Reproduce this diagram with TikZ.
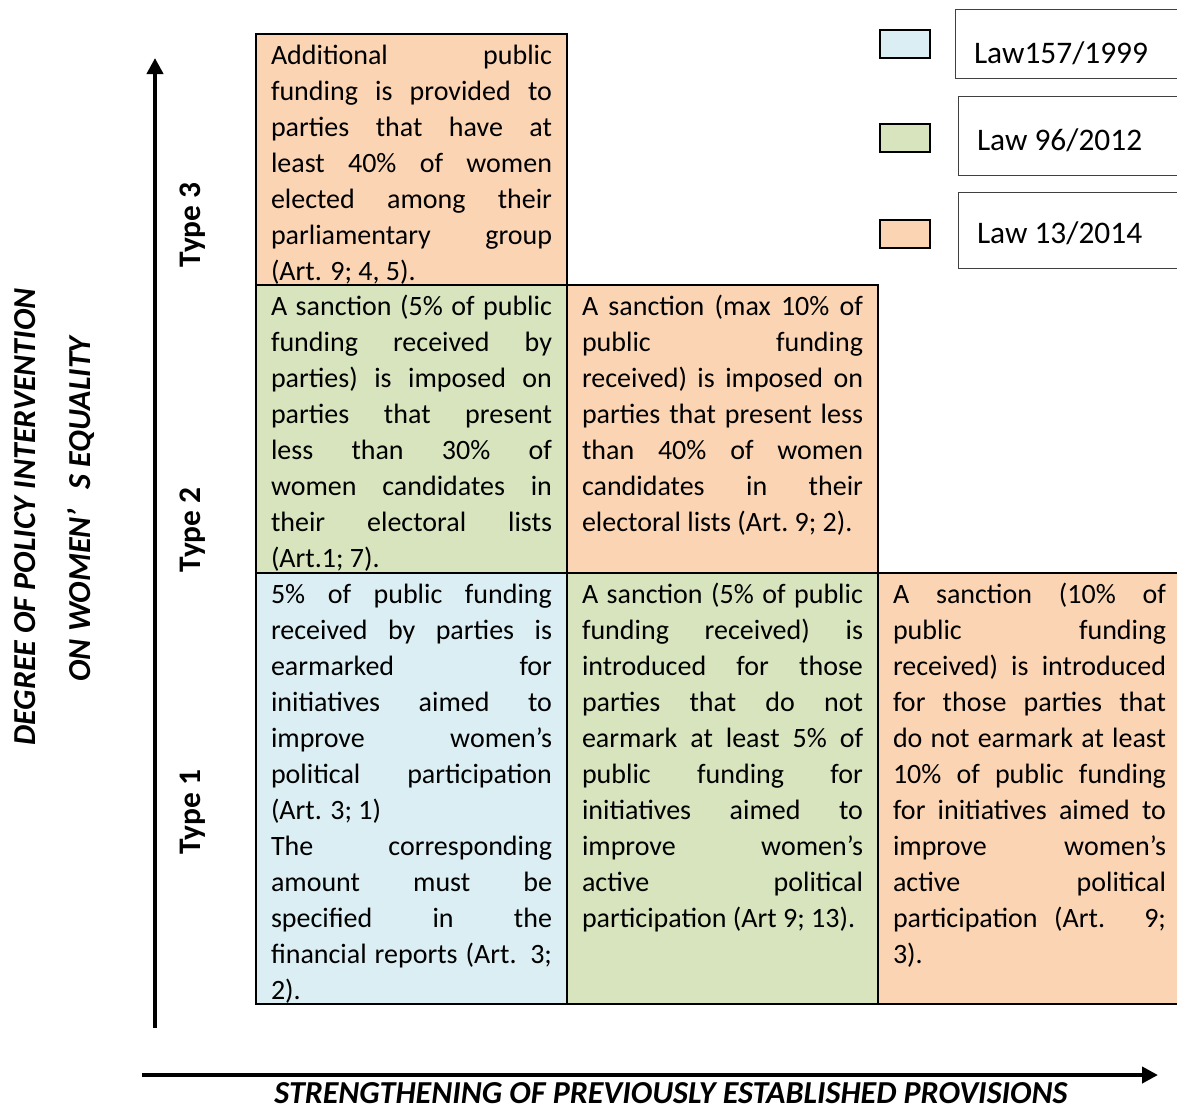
\documentclass[tikz,border=0pt]{standalone}
\usepackage{fontspec}
\setmainfont{Carlito}
\usetikzlibrary{arrows.meta,positioning}
\definecolor{lawa}{HTML}{DAEEF3}
\definecolor{lawb}{HTML}{D7E4BD}
\definecolor{lawc}{HTML}{FBD4B4}
\tolerance=10000
\hyphenpenalty=10000
\exhyphenpenalty=10000
\hbadness=10000

\begin{document}
\begin{tikzpicture}
      [x=0.5pt, y=-0.5pt,
      every node/.style={inner sep=0pt, outer sep=0pt},
      cell/.style={draw, line width=1pt, anchor=north west, minimum width=#1},
      txt/.style={anchor=base west, text width=140.5pt, align=justify,
        font=\fontsize{14}{18}\selectfont},
      typelabel/.style={rotate=90, font=\fontsize{15.7}{18}\selectfont\bfseries},
      axislabel/.style={font=\fontsize{16}{18}\selectfont\bfseries\itshape},
      axis/.style={line width=2pt, -{Triangle[length=8pt,width=8pt]}},
      swatch/.style={draw, line width=0.8pt, minimum width=25pt, minimum height=14pt},
      legbox/.style={draw=black!75, line width=0.5pt, anchor=north west, minimum width=#1},
      legtxt/.style={anchor=base west, font=\fontsize{15.7}{18}\selectfont}]
      \useasboundingbox (0,0) rectangle (1177,1110);
      % cells
      \node[cell=155.5pt, minimum height=125.5pt, fill=lawc] (t3) at (256,34) {};
      \node[cell=155.5pt, minimum height=144pt, fill=lawb] (t2a) at (256,285) {};
      \node[cell=155.5pt, minimum height=144pt, fill=lawc] (t2b) at (567,285) {};
      \node[cell=155.5pt, minimum height=215.5pt, fill=lawa] (t1a) at (256,573) {};
      \node[cell=155.5pt, minimum height=215.5pt, fill=lawb] (t1b) at (567,573) {};
      \node[cell=153.5pt, minimum height=215.5pt, fill=lawc] (t1c) at (878,573) {};
      % cell texts
      \node[txt] (t3txt) at ([shift={(15,30)}]t3.north west)
        {Additional public\linebreak funding is provided to\linebreak parties that have at\linebreak
         least 40\% of women\linebreak elected among their\linebreak parliamentary group\linebreak
         (Art. 9; 4, 5).};
      \node[txt] (t2atxt) at ([shift={(15,30)}]t2a.north west)
        {A sanction (5\% of public\linebreak funding received by\linebreak parties) is imposed on\linebreak
         parties that present\linebreak less than 30\% of\linebreak women candidates in\linebreak
         their electoral lists\linebreak (Art.1; 7).};
      \node[txt] (t2btxt) at ([shift={(15,30)}]t2b.north west)
        {A sanction (max 10\% of\linebreak public funding\linebreak received) is imposed on\linebreak
         parties that present less\linebreak than 40\% of women\linebreak candidates in their\linebreak
         electoral lists (Art.~9;~2).};
      \node[txt] (t1atxt) at ([shift={(15,30)}]t1a.north west)
        {5\% of public funding\linebreak received by parties is\linebreak earmarked for\linebreak
         initiatives aimed to\linebreak improve women’s\linebreak political participation\linebreak
         (Art. 3; 1)\par
         The corresponding\linebreak amount must be\linebreak specified in the\linebreak
         financial reports (Art. 3;\linebreak 2).};
      \node[txt] (t1btxt) at ([shift={(15,30)}]t1b.north west)
        {A sanction (5\% of public\linebreak funding received) is\linebreak introduced for those\linebreak
         parties that do not\linebreak earmark at least 5\% of\linebreak public funding for\linebreak
         initiatives aimed to\linebreak improve women’s\linebreak active political\linebreak
         participation (Art~9;~13).};
      \node[txt, text width=136.5pt] (t1ctxt) at ([shift={(15,30)}]t1c.north west)
        {A sanction (10\% of\linebreak public funding\linebreak received) is introduced\linebreak
         for those parties that\linebreak do not earmark at least\linebreak 10\% of public funding\linebreak
         for initiatives aimed to\linebreak improve women’s\linebreak active political\linebreak
         participation (Art. 9;\linebreak 3).};
      % types
      \node[typelabel] (ty3) at (193,225) {Type 3};
      \node[typelabel] (ty2) at (193,530) {Type 2};
      \node[typelabel] (ty1) at (193,812) {Type 1};
      % axes
      \coordinate (vbot) at (155,1028);
      \coordinate (vtop) at (155,58);
      \coordinate (hleft) at (142,1075);
      \coordinate (hright) at (1158,1075);
      \draw[axis] (vbot) -- (vtop);
      \draw[axis] (hleft) -- (hright);
      \node[axislabel, rotate=90] (ylab) at (25,517) {DEGREE OF POLICY INTERVENTION};
      \node[axislabel, rotate=90] (ylabb) at (81,509) {ON WOMEN’\ \ \,S EQUALITY};
      \node[axislabel, anchor=base, text depth=0pt] (xlab) at (671,1103)
        {STRENGTHENING OF PREVIOUSLY ESTABLISHED PROVISIONS};
      % legend
      \node[swatch, fill=lawa] (sa) at (905,44) {};
      \node[swatch, fill=lawb] (sb) at (905,138) {};
      \node[swatch, fill=lawc] (sc) at (905,234) {};
      \node[legbox=115pt, minimum height=34.5pt] (la) at (955,9) {};
      \node[legbox=113.5pt, minimum height=39.5pt] (lb) at (958,96) {};
      \node[legbox=113.5pt, minimum height=38pt] (lc) at (958,192) {};
      \node[legtxt] (latxt) at (974,63) {Law157/1999};
      \node[legtxt] (lbtxt) at (977,150) {Law 96/2012};
      \node[legtxt] (lctxt) at (977,243) {Law 13/2014};
    \end{tikzpicture}
\end{document}
